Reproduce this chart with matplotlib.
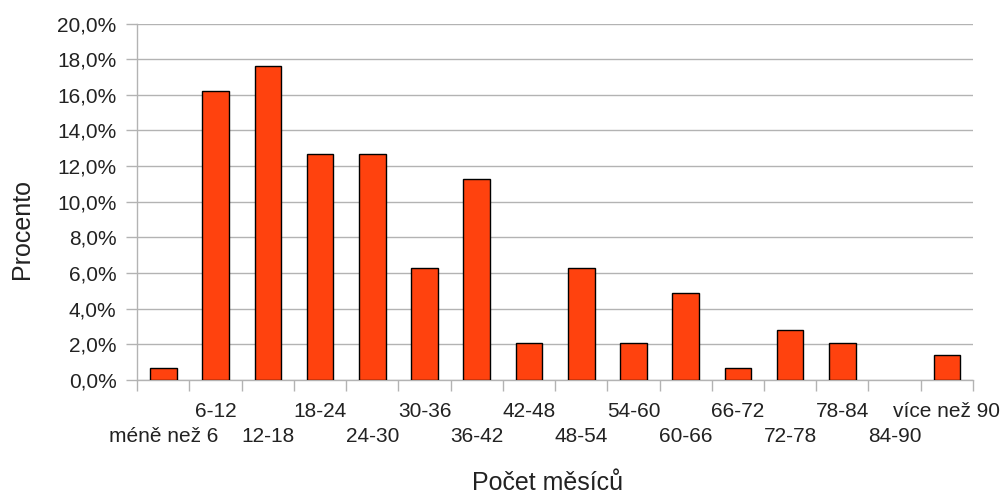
import matplotlib
matplotlib.use("Agg")
import matplotlib.pyplot as plt
import matplotlib.transforms as mtransforms
import numpy as np
from matplotlib.ticker import FixedLocator, FuncFormatter

plt.rcParams['font.family'] = ['Liberation Sans', 'DejaVu Sans']

categories = ["méně než 6", "6-12", "12-18", "18-24", "24-30", "30-36", "36-42",
              "42-48", "48-54", "54-60", "60-66", "66-72", "72-78", "78-84",
              "84-90", "více než 90"]
values = [0.7, 16.2, 17.6, 12.7, 12.7, 6.3, 11.3, 2.1, 6.3, 2.1, 4.9, 0.7,
          2.8, 2.1, 0.0, 1.4]
y_ticks = [0, 2, 4, 6, 8, 10, 12, 14, 16, 18, 20]

bar_color = "#ff420e"
grid_color = "#b3b3b3"
text_color = "#222222"

fig = plt.figure(figsize=(10.07, 4.96), dpi=100)
ax = fig.add_axes([0.1363, 0.2339, 0.9662 - 0.1363, 0.9526 - 0.2339])

n = len(categories)
x = np.arange(n) + 0.5
edge = ["black" if v > 0 else "none" for v in values]
ax.bar(x, values, width=0.51, color=bar_color, edgecolor=edge,
       linewidth=1.0, zorder=3)

ax.set_xlim(0, n)
ax.set_ylim(0, 20)

ax.set_yticks(y_ticks)
ax.yaxis.set_major_formatter(FuncFormatter(lambda v, p: f"{v:.1f}".replace(".", ",") + "%"))
ax.grid(axis="y", color=grid_color, linewidth=1.0, zorder=0)
ax.grid(axis="x", visible=False)

# x ticks: boundaries with marks, centers with staggered labels
ax.xaxis.set_major_locator(FixedLocator(np.arange(n + 1)))
ax.xaxis.set_major_formatter(FuncFormatter(lambda v, p: ""))
ax.tick_params(axis="x", which="major", length=8, width=1, color=grid_color)
ax.tick_params(axis="y", length=8, width=1, color=grid_color, pad=7,
               labelsize=15, labelcolor=text_color)

trans = mtransforms.blended_transform_factory(ax.transData, ax.transAxes)
for i, (xi, c) in enumerate(zip(x, categories)):
    off = -23 if i % 2 == 1 else -40.5
    ax.annotate(c, xy=(xi, 0), xycoords=trans, xytext=(0, off),
                textcoords="offset points", ha="center", va="center",
                fontsize=15, color=text_color, annotation_clip=False)

for s in ["top", "right"]:
    ax.spines[s].set_visible(False)
for s in ["left", "bottom"]:
    ax.spines[s].set_color(grid_color)
    ax.spines[s].set_linewidth(1.0)

fig.text(22 / 1007, 1 - 229 / 496, "Procento", rotation=90, ha="center",
         va="center", fontsize=18, color=text_color)
fig.text(548 / 1007, 1 - 483 / 496, "Počet měsíců", ha="center", va="center",
         fontsize=18, color=text_color)

fig.savefig("out.png", dpi=100)
